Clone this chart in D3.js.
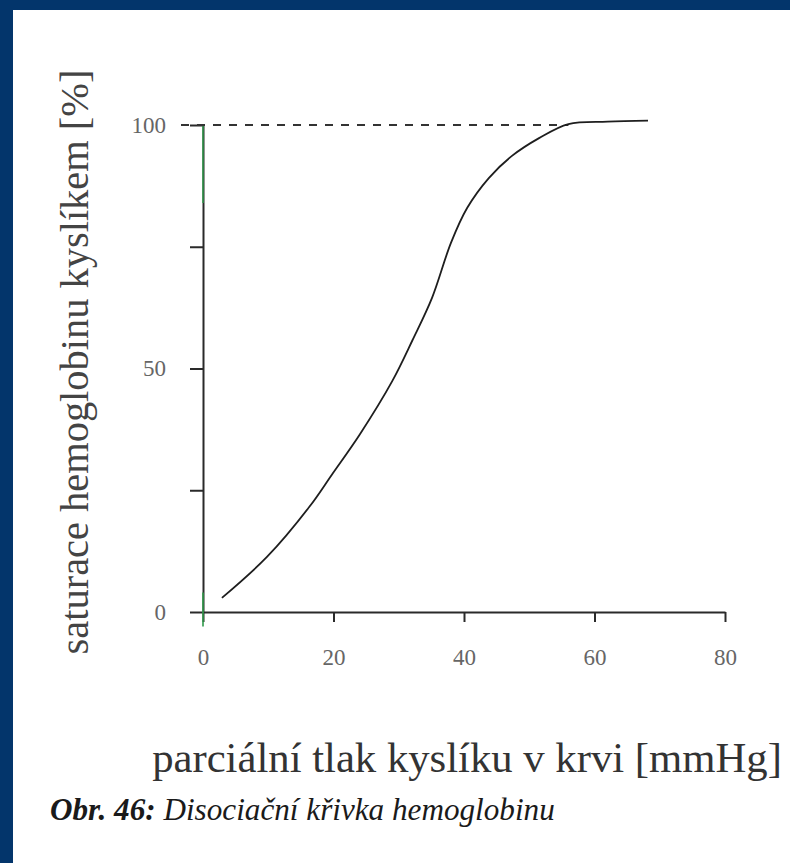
<!DOCTYPE html>
<html>
<head>
<meta charset="utf-8">
<script src="https://cdn.jsdelivr.net/npm/d3@7"></script>
<style>
  html, body { margin: 0; padding: 0; background: #ffffff; }
  svg { display: block; }
</style>
</head>
<body>
<script>
// ---- data ----
const xTickValues = [0, 20, 40, 60, 80];
const yTickValues = [0, 25, 50, 75, 100];
const yTickLabels = [0, 50, 100];
const pressure   = [2.9, 9.8, 16.3, 19.8, 24.0, 29.0, 32.1, 35.1, 38.0, 40.5, 43.8, 47.3, 51.5, 56.0, 62.0, 68.2];
const saturation = [2.9, 11.3, 21.6, 28.3, 36.4, 47.4, 55.8, 64.5, 75.8, 83.0, 89.1, 93.6, 97.3, 100.2, 100.7, 100.9];
const saturationMax = 100;
const dashEndPressure = 56;
const xTitle = "parciální tlak kyslíku v krvi [mmHg]";
const yTitle = "saturace hemoglobinu kyslíkem [%]";
const captionBold = "Obr. 46:";
const captionItalic = " Disociační křivka hemoglobinu";

const W = 790, H = 863;
const svg = d3.select("body").append("svg").attr("width", W).attr("height", H);

// page frame (blue scan border on top & left)
svg.append("rect").attr("x", 0).attr("y", 0).attr("width", W).attr("height", H).attr("fill", "#03356b");
svg.append("rect").attr("x", 13).attr("y", 10).attr("width", W - 13).attr("height", H - 10).attr("fill", "#ffffff");

const x = d3.scaleLinear().domain([0, 80]).range([203, 725]);
const y = d3.scaleLinear().domain([0, 100]).range([612, 125]);

const serif = "'Liberation Serif', 'DejaVu Serif', serif";

// x axis
const gx = svg.append("g").attr("transform", `translate(0,${y(0)})`)
  .call(d3.axisBottom(x).tickValues(xTickValues).tickSize(10).tickSizeOuter(0).tickPadding(27));
gx.select(".domain").attr("stroke", "#2a2a2a").attr("stroke-width", 2);
gx.selectAll(".tick line").attr("stroke", "#2a2a2a").attr("stroke-width", 2);
gx.selectAll(".tick text").attr("font-family", serif).attr("font-size", 23).attr("fill", "#666");

// y axis
const gy = svg.append("g").attr("transform", `translate(${x(0)},0)`)
  .call(d3.axisLeft(y).tickValues(yTickValues).tickSize(13).tickSizeOuter(0).tickPadding(24)
    .tickFormat(d => yTickLabels.includes(d) ? d : ""));
gy.select(".domain").attr("stroke", "#2a2a2a").attr("stroke-width", 2);
gy.selectAll(".tick line").attr("stroke", "#2a2a2a").attr("stroke-width", 2);
gy.selectAll(".tick text").attr("font-family", serif).attr("font-size", 23).attr("fill", "#666");

// green scan tint on the y axis
svg.append("line").attr("x1", x(0)).attr("x2", x(0)).attr("y1", y(100)).attr("y2", y(84))
  .attr("stroke", "#2f9a4a").attr("stroke-width", 2).attr("opacity", 0.75);
svg.append("line").attr("x1", x(0)).attr("x2", x(0)).attr("y1", y(4)).attr("y2", y(-3))
  .attr("stroke", "#2f9a4a").attr("stroke-width", 2).attr("opacity", 0.8);

// dashed 100 % line
svg.append("line")
  .attr("x1", x(0) - 22).attr("x2", x(dashEndPressure))
  .attr("y1", y(saturationMax)).attr("y2", y(saturationMax))
  .attr("stroke", "#333").attr("stroke-width", 1.8).attr("stroke-dasharray", "8,8");

// curve
const pts = pressure.map((p, i) => [p, saturation[i]]);
svg.append("path").datum(pts)
  .attr("fill", "none").attr("stroke", "#1e1e1e").attr("stroke-width", 1.8)
  .attr("d", d3.line().x(d => x(d[0])).y(d => y(d[1])).curve(d3.curveCatmullRom.alpha(0.5)));

function fitFont(sel, target, base) {
  sel.attr("font-size", base);
  const w = sel.node().getComputedTextLength();
  sel.attr("font-size", base * target / w);
}

// x title
const xt = svg.append("text").attr("x", 467).attr("y", 772).attr("text-anchor", "middle")
  .attr("font-family", serif).attr("fill", "#333").text(xTitle);
fitFont(xt, 630, 30);

// y title
const yt = svg.append("text").attr("transform", "translate(88,362) rotate(-90)")
  .attr("text-anchor", "middle").attr("font-family", serif).attr("fill", "#444").text(yTitle);
fitFont(yt, 585, 30);

// caption
const cap = svg.append("text").attr("x", 50).attr("y", 820)
  .attr("font-family", serif).attr("fill", "#1a1a1a");
cap.append("tspan").attr("font-weight", "bold").attr("font-style", "italic").text(captionBold);
cap.append("tspan").attr("font-style", "italic").text(captionItalic);
fitFont(cap, 505, 26);
</script>
</body>
</html>
